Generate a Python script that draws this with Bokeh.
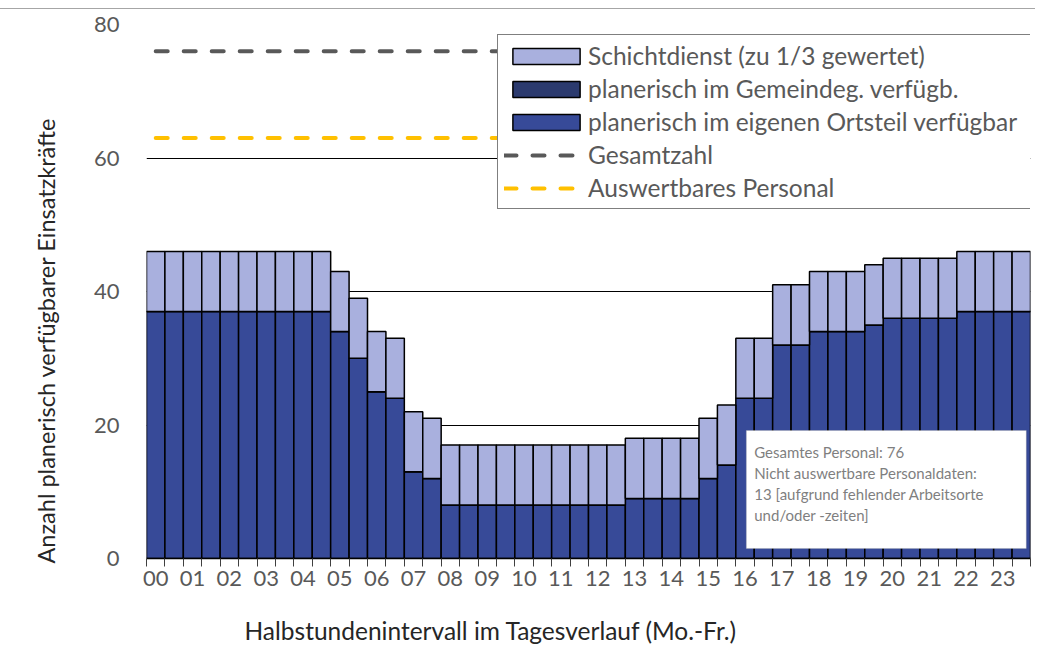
from bokeh.plotting import figure
from bokeh.models import (ColumnDataSource, FixedTicker, Legend, LegendItem,
                          BoxAnnotation, Label, Title)
from bokeh.embed import file_html
from bokeh.resources import INLINE

# ---------------- data ----------------
hour_labels = ["00", "01", "02", "03", "04", "05", "06", "07", "08", "09", "10", "11",
               "12", "13", "14", "15", "16", "17", "18", "19", "20", "21", "22", "23"]

ortsteil = [37, 37, 37, 37, 37, 37, 37, 37, 37, 37,
            34, 30, 25, 24, 13, 12,
            8, 8, 8, 8, 8, 8, 8, 8, 8, 8,
            9, 9, 9, 9,
            12, 14, 24, 24, 32, 32, 34, 34, 34, 35, 36, 36, 36, 36, 37, 37, 37, 37]
gemeindeg = [0, 0, 0, 0, 0, 0, 0, 0, 0, 0, 0, 0, 0, 0, 0, 0, 0, 0, 0, 0, 0, 0, 0, 0,
             0, 0, 0, 0, 0, 0, 0, 0, 0, 0, 0, 0, 0, 0, 0, 0, 0, 0, 0, 0, 0, 0, 0, 0]
schicht = [9, 9, 9, 9, 9, 9, 9, 9, 9, 9, 9, 9, 9, 9, 9, 9, 9, 9, 9, 9, 9, 9, 9, 9,
           9, 9, 9, 9, 9, 9, 9, 9, 9, 9, 9, 9, 9, 9, 9, 9, 9, 9, 9, 9, 9, 9, 9, 9]
gesamtzahl = 76
auswertbar = 63

y_ticks = [0, 20, 40, 60, 80]
x_title = "Halbstundenintervall im Tagesverlauf (Mo.-Fr.)"
y_title = "Anzahl planerisch verfügbarer Einsatzkräfte"
annotation_text = ("Gesamtes Personal: 76\nNicht auswertbare Personaldaten:\n"
                   "13 [aufgrund fehlender Arbeitsorte\nund/oder -zeiten]")

# ---------------- build ----------------
n = len(ortsteil)
xs = [i + 0.5 for i in range(n)]
src = ColumnDataSource(dict(x=xs, ortsteil=ortsteil, gemeindeg=gemeindeg, schicht=schicht))

FONT = "Lato"
GRAY = "#595959"
DARK = "#262626"

p = figure(width=1035, height=639, x_range=(0, n), y_range=(0, 80),
           output_backend="svg", toolbar_location=None,
           min_border_left=146, min_border_right=5, min_border_top=15,
           min_border_bottom=90)
p.styles = {"position": "relative", "top": "8px", "border-top": "1px solid #A6A6A6"}
p.outline_line_color = None
p.background_fill_color = "white"
p.border_fill_color = "white"

C_LIGHT = "#A9B0DE"
C_GEM = "#2B3A6E"
C_ORT = "#374A98"

r_bars = p.vbar_stack(["ortsteil", "gemeindeg", "schicht"], x="x", width=1.0, source=src,
                      fill_color=[C_ORT, C_GEM, C_LIGHT], line_color="black",
                      line_width=1.5)

x_line = [xs[0], xs[-1]]
r_ges = p.line(x_line, [gesamtzahl, gesamtzahl], line_color="#595959", line_width=4,
               line_dash="12 16", line_cap="round")
r_aus = p.line(x_line, [auswertbar, auswertbar], line_color="#FFC000", line_width=4,
               line_dash="12 16", line_cap="round")

# axes
p.xgrid.grid_line_color = None
p.ygrid.ticker = FixedTicker(ticks=y_ticks)
p.ygrid.grid_line_color = "black"
p.ygrid.grid_line_width = 1

p.yaxis.ticker = FixedTicker(ticks=y_ticks)
p.yaxis.axis_line_color = None
p.yaxis.major_tick_line_color = None
p.yaxis.minor_tick_line_color = None
p.yaxis.major_tick_out = 0
p.yaxis.major_label_standoff = 27
p.yaxis.major_label_text_font = FONT
p.yaxis.major_label_text_font_size = "22px"
p.yaxis.major_label_text_color = GRAY

label_pos = [xs[2 * k] for k in range(len(hour_labels))]
p.xaxis.ticker = FixedTicker(ticks=label_pos, minor_ticks=list(range(n + 1)))
p.xaxis.major_label_overrides = {pos: lab for pos, lab in zip(label_pos, hour_labels)}
p.xaxis.axis_line_color = "black"
p.xaxis.axis_line_width = 1.5
p.xaxis.major_tick_line_color = None
p.xaxis.major_tick_out = 8
p.xaxis.major_tick_in = 0
p.xaxis.minor_tick_line_color = "#404040"
p.xaxis.minor_tick_out = 8
p.xaxis.minor_tick_in = 0
p.xaxis.major_label_standoff = 4
p.xaxis.major_label_text_font = FONT
p.xaxis.major_label_text_font_size = "22px"
p.xaxis.major_label_text_color = GRAY

# axis titles (Excel places them off-centre)
p.add_layout(Title(text="\n" + x_title, align="left", vertical_align="bottom",
                   offset=98, standoff=0, text_font=FONT, text_font_size="24.5px",
                   text_line_height=0.88, text_font_style="normal", text_color=DARK),
             "below")
p.add_layout(Title(text=y_title + "\n", align="left", vertical_align="bottom",
                   offset=-5, standoff=0, text_font=FONT, text_font_size="23.5px",
                   text_line_height=1.1, text_font_style="normal", text_color=DARK),
             "left")

# annotation box
p.add_layout(BoxAnnotation(left=32.57, right=47.77, bottom=1.5, top=19.18,
                           fill_color="white", fill_alpha=1.0,
                           line_color="#A6A6A6", line_width=1))
p.add_layout(Label(x=33.0, y=17.3, text=annotation_text, text_align="left",
                   text_baseline="top", text_font=FONT, text_font_size="15px",
                   text_color="#7F7F7F", text_line_height=1.17))

# legend
legend = Legend(items=[
    LegendItem(label="Schichtdienst (zu 1/3 gewertet)", renderers=[r_bars[2]]),
    LegendItem(label="planerisch im Gemeindeg. verfügb.", renderers=[r_bars[1]]),
    LegendItem(label="planerisch im eigenen Ortsteil verfügbar", renderers=[r_bars[0]]),
    LegendItem(label="Gesamtzahl", renderers=[r_ges]),
    LegendItem(label="Auswertbares Personal", renderers=[r_aus]),
], location=(351, 349))
legend.glyph_width = 84
legend.glyph_height = 20
legend.label_standoff = 0
legend.label_height = 24
legend.label_width = 436
legend.spacing = 4
legend.padding = 6
legend.margin = 0
legend.border_line_color = "black"
legend.border_line_width = 1.5
legend.background_fill_color = "white"
legend.background_fill_alpha = 1.0
legend.label_text_font = FONT
legend.label_text_font_size = "24.5px"
legend.label_text_color = GRAY
p.add_layout(legend)

open("out.html", "w").write(file_html(p, INLINE))
